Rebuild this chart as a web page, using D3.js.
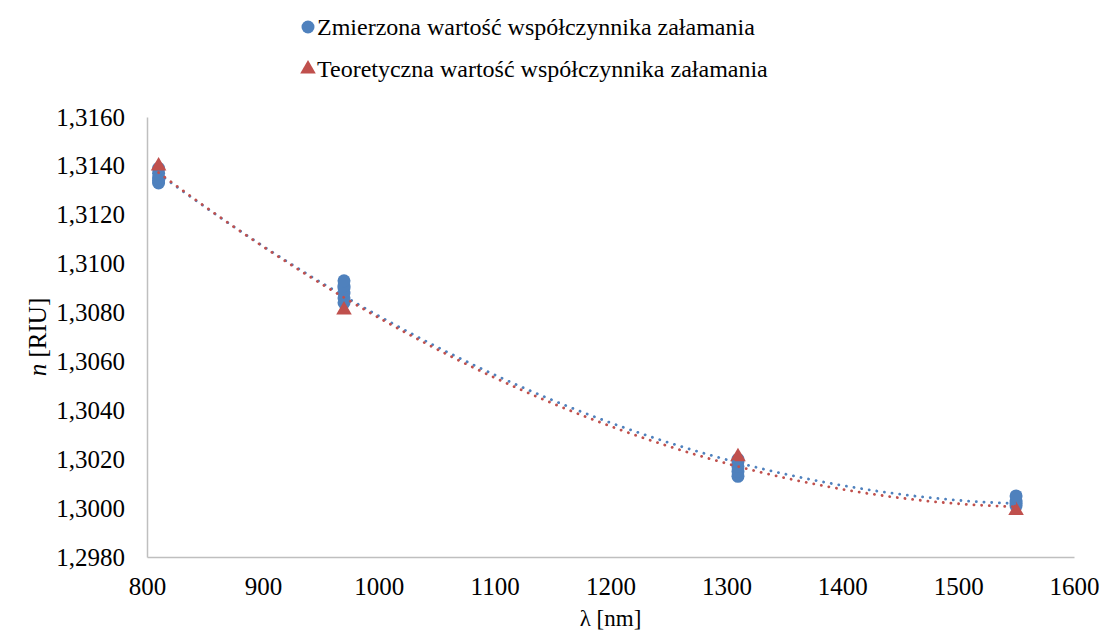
<!DOCTYPE html>
<html>
<head>
<meta charset="utf-8">
<script src="https://cdn.jsdelivr.net/npm/d3@7"></script>
</head>
<body style="margin:0">
<script>
// measured points (lambda, n)
const measuredX = [810, 810, 810, 810, 810,
  970, 970, 970, 970, 970, 970,
  1310, 1310, 1310, 1310, 1310,
  1550, 1550, 1550, 1550]
const measuredY = [1.3133, 1.3134, 1.3135, 1.3137, 1.3139,
  1.3084, 1.3086, 1.3088, 1.3090, 1.3091, 1.3093,
  1.3013, 1.3015, 1.3017, 1.3019, 1.3020,
  1.3001, 1.3002, 1.3003, 1.3005]

// theoretical points
const theoryX = [810, 970, 1310, 1550]
const theoryY = [1.3140, 1.3081, 1.3021, 1.2999]

const xTicks = [800, 900, 1000, 1100, 1200, 1300, 1400, 1500, 1600]
const yTicks = [1.298, 1.300, 1.302, 1.304, 1.306, 1.308, 1.310, 1.312, 1.314, 1.316]

const legendLabels = ['Zmierzona wartość współczynnika załamania', 'Teoretyczna wartość współczynnika załamania']

const blue = '#4f81bd'
const red = '#c0504d'
const fontFam = 'Liberation Serif, serif'

const width = 1103, height = 631
const margin = { top: 117, right: 29, bottom: 74, left: 147 }

const svg = d3.select('body').append('svg')
  .attr('width', width)
  .attr('height', height)

function serifText (sel, size) {
  return sel.style('font-family', fontFam)
    .style('font-size', (size || 26) + 'px')
    .attr('fill', '#000')
}

const x = d3.scaleLinear()
  .domain([800, 1600])
  .range([margin.left, width - margin.right])

const y = d3.scaleLinear()
  .domain([1.298, 1.316])
  .range([height - margin.bottom, margin.top])

const fmt = d => d3.format('.4f')(d).replace('.', ',')

// axes
const xAxis = svg.append('g')
  .attr('transform', `translate(0,${y(1.298)})`)
  .call(d3.axisBottom(x).tickValues(xTicks).tickFormat(d3.format('d')).tickSize(0).tickPadding(20))
xAxis.attr('font-family', null).attr('font-size', null)
xAxis.select('.domain').attr('stroke', '#bfbfbf').attr('stroke-width', 1.5)
serifText(xAxis.selectAll('text'), 25)

const yAxis = svg.append('g')
  .attr('transform', `translate(${x(800)},0)`)
  .call(d3.axisLeft(y).tickValues(yTicks).tickFormat(fmt).tickSize(0).tickPadding(22))
yAxis.attr('font-family', null).attr('font-size', null)
yAxis.select('.domain').attr('stroke', '#bfbfbf').attr('stroke-width', 1.5)
serifText(yAxis.selectAll('text'), 25)

// axis titles
serifText(svg.append('text'), 23)
  .attr('x', (x(800) + x(1600)) / 2)
  .attr('y', 626)
  .attr('text-anchor', 'middle')
  .text('λ [nm]')

const yTitle = serifText(svg.append('text'), 25)
  .attr('transform', `translate(46,${(y(1.298) + y(1.316)) / 2}) rotate(-90)`)
  .attr('text-anchor', 'middle')
yTitle.append('tspan').style('font-style', 'italic').text('n')
yTitle.append('tspan').text(' [RIU]')

// second order polynomial least squares fit
function polyFit (xs, ys) {
  const m = d3.mean(xs)
  const s = new Array(5).fill(0), t = new Array(3).fill(0)
  xs.forEach((xv, i) => {
    const u = xv - m
    for (let k = 0; k < 5; k++) s[k] += Math.pow(u, k)
    for (let k = 0; k < 3; k++) t[k] += ys[i] * Math.pow(u, k)
  })
  const A = [[s[0], s[1], s[2], t[0]], [s[1], s[2], s[3], t[1]], [s[2], s[3], s[4], t[2]]]
  for (let c = 0; c < 3; c++) {
    for (let r = c + 1; r < 3; r++) {
      const f = A[r][c] / A[c][c]
      for (let k = c; k < 4; k++) A[r][k] -= f * A[c][k]
    }
  }
  const b = [0, 0, 0]
  for (let r = 2; r >= 0; r--) {
    let v = A[r][3]
    for (let k = r + 1; k < 3; k++) v -= A[r][k] * b[k]
    b[r] = v / A[r][r]
  }
  return xv => b[0] + b[1] * (xv - m) + b[2] * (xv - m) * (xv - m)
}

const line = d3.line().x(d => x(d[0])).y(d => y(d[1]))
const trendXs = d3.range(810, 1551, 5)

function drawTrend (xs, ys, color) {
  const f = polyFit(xs, ys)
  svg.append('path')
    .datum(trendXs.map(v => [v, f(v)]))
    .attr('d', line)
    .attr('fill', 'none')
    .attr('stroke', color)
    .attr('stroke-width', 2.8)
    .attr('stroke-linecap', 'round')
    .attr('stroke-dasharray', '0.1 7.6')
}

// markers
const triangle = d3.symbol().type(d3.symbolTriangle).size(105)

svg.append('g').selectAll('circle')
  .data(measuredX.map((v, i) => [v, measuredY[i]]))
  .join('circle')
    .attr('cx', d => x(d[0]))
    .attr('cy', d => y(d[1]))
    .attr('r', 6.5)
    .attr('fill', blue)

svg.append('g').selectAll('path')
  .data(theoryX.map((v, i) => [v, theoryY[i]]))
  .join('path')
    .attr('d', triangle)
    .attr('transform', d => `translate(${x(d[0])},${y(d[1])})`)
    .attr('fill', red)

drawTrend(measuredX, measuredY, blue)
drawTrend(theoryX, theoryY, red)

// legend
const legendY = [27, 69]
svg.append('circle')
  .attr('cx', 308).attr('cy', legendY[0]).attr('r', 6.5).attr('fill', blue)
svg.append('path')
  .attr('d', triangle)
  .attr('transform', `translate(308,${legendY[1]})`)
  .attr('fill', red)
legendLabels.forEach((t, i) => {
  serifText(svg.append('text'), 24)
    .attr('x', 317)
    .attr('y', legendY[i] + 8)
    .text(t)
})
</script>
</body>
</html>
